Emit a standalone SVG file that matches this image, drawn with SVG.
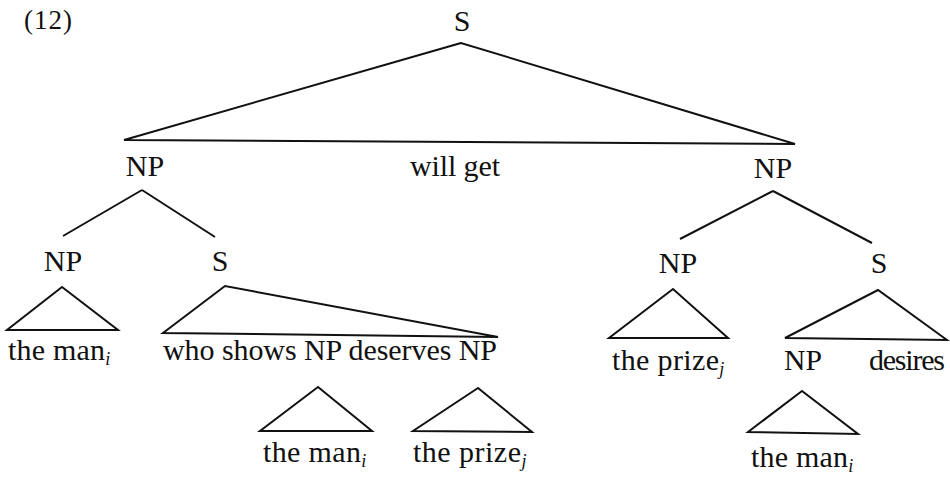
<svg xmlns="http://www.w3.org/2000/svg" width="950" height="477" viewBox="0 0 950 477">
<style>
text{font-family:"Liberation Serif","Times New Roman",serif;font-size:30px;fill:#111}
.c{text-anchor:middle}
.sub{font-size:18px;font-style:italic}
.e{fill:none;stroke:#111;stroke-width:2;stroke-linejoin:miter}
</style>
<rect width="950" height="477" fill="#fff"/>
<text x="24" y="29" style="font-size:27px" textLength="48" lengthAdjust="spacing">(12)</text>
<g id="connectors">
<path class="e" d="M461,43 L124,140 L795,144 Z"/>
<path class="e" d="M142,190 L63,236 M142,190 L215,237"/>
<path class="e" d="M773,191 L680,239 M773,191 L872,243"/>
<path class="e" d="M62,287 L7,330 L118,330 Z"/>
<path class="e" d="M225,286 L163,333 L498,337 Z"/>
<path class="e" d="M318,387 L260,431 L372,431 Z"/>
<path class="e" d="M478,388 L413,431 L532,432 Z"/>
<path class="e" d="M673,289 L609,338 L728,338 Z"/>
<path class="e" d="M878,290 L785,338 L947,340 Z"/>
<path class="e" d="M802,391 L748,432 L858,434 Z"/>
</g>
<g id="s-root"><text class="c" x="462" y="31">S</text></g>
<g id="np-left"><text class="c" x="145" y="176">NP</text></g>
<g id="will-get"><text x="410" y="176" textLength="90" lengthAdjust="spacing">will get</text></g>
<g id="np-right"><text class="c" x="773" y="178">NP</text></g>
<g id="np-l1"><text class="c" x="63" y="271">NP</text></g>
<g id="s-l1"><text class="c" x="220" y="271">S</text></g>
<g id="the-man-1"><text x="8" y="360"><tspan textLength="97" lengthAdjust="spacing">the man</tspan><tspan class="sub" dy="5">i</tspan></text></g>
<g id="who-shows"><text x="163" y="360" textLength="334" lengthAdjust="spacing">who shows NP deserves NP</text></g>
<g id="the-man-2"><text x="263" y="462"><tspan textLength="98" lengthAdjust="spacing">the man</tspan><tspan class="sub" dy="5">i</tspan></text></g>
<g id="the-prize-1"><text x="413" y="462"><tspan textLength="108" lengthAdjust="spacing">the prize</tspan><tspan class="sub" dy="5">j</tspan></text></g>
<g id="np-r1"><text class="c" x="678" y="273">NP</text></g>
<g id="s-r1"><text class="c" x="879" y="273">S</text></g>
<g id="the-prize-2"><text x="612" y="370"><tspan textLength="107" lengthAdjust="spacing">the prize</tspan><tspan class="sub" dy="5">j</tspan></text></g>
<g id="np-r2"><text x="784" y="370" textLength="38" lengthAdjust="spacingAndGlyphs">NP</text></g>
<g id="desires"><text x="869" y="370" textLength="76" lengthAdjust="spacing">desires</text></g>
<g id="the-man-3"><text x="751" y="467"><tspan textLength="97" lengthAdjust="spacing">the man</tspan><tspan class="sub" dy="5">i</tspan></text></g>
</svg>
